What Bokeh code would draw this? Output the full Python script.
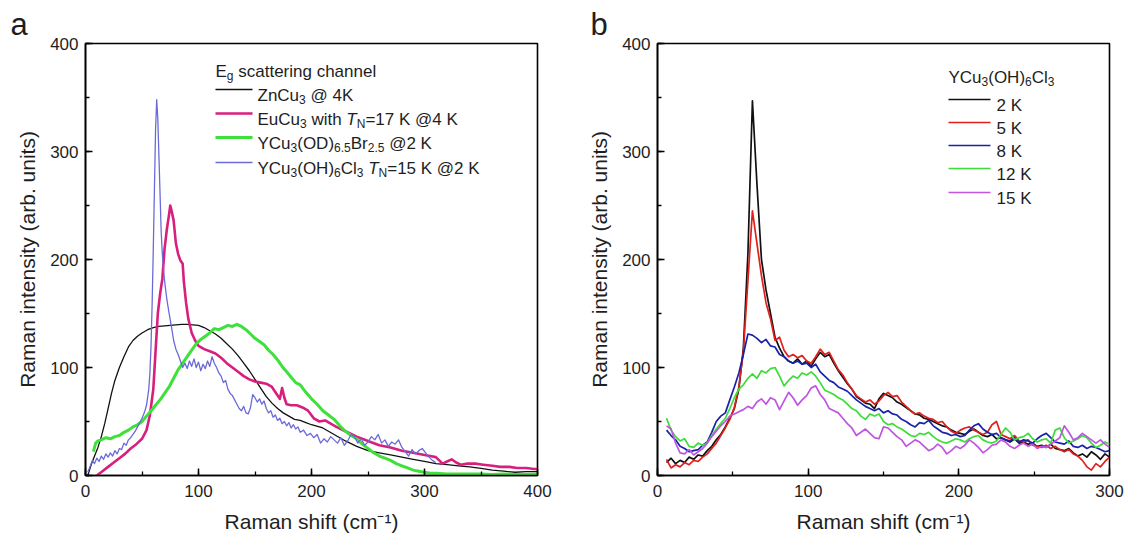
import numpy as np
from bokeh.plotting import figure
from bokeh.models import Range1d, SingleIntervalTicker, Label
from bokeh.layouts import row
from bokeh.embed import file_html
from bokeh.resources import INLINE

# ---------------- Panel a data (E_g scattering channel) ----------------
zncu3_x = [2, 5, 8, 11, 14, 17, 20, 23, 26, 30, 34, 38, 42, 46, 50, 55, 60, 65, 70, 75,
           80, 85, 90, 95, 100, 105, 110, 115, 120, 125, 130, 135, 140, 145, 150, 155, 160, 165, 170, 175,
           180, 185, 190, 195, 200, 210, 220, 230, 240, 250, 260, 270, 280, 290, 300, 310, 320, 330, 340, 350,
           360, 370, 380, 390, 400]
zncu3_y = [0, 10, 18, 26, 36, 48, 62, 76, 88, 100, 110, 119, 125, 129, 132, 135, 137, 138, 138.5, 139,
           139.5, 140, 140, 139.5, 139, 137, 134, 131, 127, 122, 117, 111, 104, 97, 89, 81, 73, 67, 62, 58,
           55, 52, 51, 49, 47, 44, 38, 32, 27, 23, 21, 19, 17, 15, 13, 11, 10, 9, 8, 6.5,
           5, 4, 3, 3.5, 3.5]

eucu3_x = [10, 15, 20, 25, 30, 35, 40, 45, 50, 54, 57, 60, 62, 64, 66, 68, 70, 72, 74, 75,
           76, 78, 80, 82, 84, 86, 87, 89, 91, 94, 97, 100, 105, 110, 115, 120, 125, 130, 135, 140,
           145, 150, 155, 160, 165, 170, 172, 174, 176, 178, 182, 187, 192, 197, 202, 207, 212, 217, 222, 230,
           240, 250, 260, 270, 280, 290, 300, 305, 310, 313, 316, 320, 324, 328, 332, 338, 345, 352, 360, 367,
           375, 382, 390, 397, 400]
eucu3_y = [0, 4, 8, 12, 16, 20, 25, 29, 34, 42, 56, 80, 115, 150, 168, 182, 210, 228, 242, 250,
           246, 236, 215, 205, 199, 196, 180, 160, 145, 132, 125, 120, 117, 115, 113, 109, 104, 100, 96, 92,
           89, 87, 86, 85, 82, 74, 71, 81, 72, 66, 65, 65, 63, 60, 53, 50, 51, 48, 45, 41,
           36, 32, 28, 26, 23, 21, 19, 18, 17, 14, 11, 13, 15, 12, 10, 11, 11, 10, 9, 8,
           8, 7, 7, 6, 6]

odbr_x = [7, 9, 11, 14, 18, 22, 26, 30, 34, 38, 42, 46, 50, 54, 58, 62, 66, 70, 74, 78,
          82, 86, 90, 94, 98, 102, 106, 110, 114, 118, 122, 126, 130, 134, 138, 142, 146, 150, 154, 158,
          162, 166, 170, 174, 178, 182, 186, 190, 195, 200, 205, 210, 215, 220, 225, 230, 235, 240, 245, 250,
          255, 260, 265, 270, 275, 280, 285, 290, 295, 300, 305, 310, 320, 330, 340, 350, 360, 370, 380, 390,
          400]
odbr_y = [22, 30, 32, 33, 35, 34, 36, 37, 40, 42, 45, 47, 50, 55, 60, 65, 70, 76, 82, 90,
          98, 104, 110, 116, 122, 126, 129, 132, 136, 135, 137, 139, 138, 140, 138, 135, 131, 127, 124, 121,
          116, 112, 107, 101, 96, 91, 86, 84, 77, 71, 66, 60, 56, 52, 46, 41, 37, 34, 29, 25,
          21, 18, 16, 14, 11, 9, 7, 5, 4, 3, 2, 2, 1.5, 1.5, 1.5, 1.5, 1, 1.5, 1, 1,
          1.5]

ohcl_x = [2, 4, 6, 8, 10, 12, 14, 16, 18, 20, 22, 24, 26, 28, 30, 32, 34, 36, 38, 40,
          42, 44, 46, 48, 50, 52, 54, 56, 57, 58, 59, 60, 61, 62, 63, 64, 65, 66, 67, 68,
          69, 70, 72, 74, 76, 78, 80, 82, 84, 86, 88, 90, 92, 94, 96, 98, 100, 102, 104, 106,
          108, 110, 112, 114, 116, 118, 120, 122, 124, 126, 128, 130, 132, 134, 136, 138, 140, 142, 144, 146,
          148, 150, 152, 154, 156, 158, 160, 162, 164, 166, 168, 170, 172, 174, 176, 178, 180, 182, 184, 186,
          188, 190, 193, 196, 199, 202, 205, 208, 211, 214, 217, 220, 223, 226, 229, 232, 235, 238, 241, 244,
          247, 250, 253, 256, 259, 262, 265, 268, 271, 274, 277, 280, 283, 286, 289, 292, 295, 298, 301, 304,
          307, 310]
ohcl_y = [3, 8, 14, 11, 16, 13, 18, 15, 20, 17, 21, 18, 23, 20, 25, 24, 30, 28, 33, 35,
          38, 41, 45, 49, 53, 58, 65, 80, 95, 120, 160, 210, 265, 320, 348, 330, 295, 260, 225, 205,
          192, 180, 163, 150, 138, 125, 117, 112, 106, 100, 104, 99, 106, 101, 108, 100, 105, 97, 103, 99,
          106, 101, 110, 104, 100, 95, 92, 86, 88, 80, 76, 74, 70, 66, 62, 60, 64, 58, 57, 63,
          75, 72, 68, 71, 66, 69, 62, 58, 60, 54, 56, 51, 53, 48, 50, 46, 49, 44, 47, 43,
          45, 40, 42, 37, 39, 35, 38, 30, 34, 31, 36, 33, 30, 35, 28, 32, 38, 36, 30, 34,
          28, 31, 36, 33, 38, 30, 33, 27, 31, 29, 33, 26, 22, 18, 24, 20, 23, 25, 21, 17,
          14, 12]

# ---------------- Panel b data (YCu3(OH)6Cl3, temperatures) ----------------
shift_b = list(range(6, 301, 3))
t2K = [12, 16, 11, 14, 12, 17, 15, 19, 18, 23, 27, 33, 38, 45, 53, 62, 80, 118, 205, 347,
       270, 200, 172, 150, 128, 118, 110, 106, 104, 108, 103, 106, 101, 108, 114, 110, 112, 104, 97, 91,
       85, 80, 73, 70, 67, 66, 62, 71, 76, 74, 72, 68, 66, 63, 60, 57, 56, 53, 52, 50,
       48, 46, 45, 42, 40, 39, 38, 41, 43, 40, 37, 36, 38, 34, 35, 33, 31, 34, 30, 31,
       29, 30, 27, 28, 26, 29, 25, 24, 23, 25, 21, 18, 20, 17, 22, 19, 15, 20, 17]
t5K = [15, 7, 10, 8, 12, 10, 14, 13, 17, 20, 25, 30, 37, 44, 52, 63, 82, 115, 180, 245,
       215, 185, 160, 145, 125, 128, 116, 110, 112, 109, 111, 106, 104, 110, 117, 112, 114, 106, 98, 93,
       86, 80, 74, 71, 68, 70, 66, 69, 74, 77, 73, 74, 68, 64, 60, 57, 58, 55, 53, 52,
       49, 50, 45, 41, 39, 42, 44, 45, 42, 40, 38, 40, 47, 50, 38, 36, 34, 37, 32, 31,
       33, 28, 27, 26, 28, 25, 27, 24, 22, 24, 20, 18, 14, 8, 5, 11, 8, 13, 17]
t8K = [42, 37, 33, 27, 25, 22, 23, 24, 28, 31, 40, 50, 55, 58, 70, 82, 95, 112, 131, 130,
       127, 123, 126, 120, 119, 112, 110, 106, 104, 106, 103, 104, 100, 103, 96, 92, 88, 86, 82, 80,
       78, 74, 70, 67, 64, 62, 60, 62, 58, 60, 57, 56, 52, 50, 47, 45, 49, 48, 51, 46,
       43, 40, 39, 37, 38, 36, 37, 42, 46, 48, 43, 40, 38, 39, 35, 33, 32, 35, 31, 33,
       32, 30, 34, 37, 39, 35, 31, 30, 29, 32, 27, 26, 28, 25, 27, 26, 24, 22, 23]
t12K = [53, 42, 36, 32, 34, 27, 26, 30, 28, 30, 37, 43, 48, 53, 62, 72, 80, 84, 90, 94,
        90, 97, 95, 99, 100, 92, 83, 88, 92, 90, 95, 93, 96, 92, 86, 79, 77, 75, 72, 70,
        66, 62, 60, 55, 52, 57, 55, 57, 50, 47, 48, 45, 43, 40, 37, 36, 39, 38, 40, 36,
        33, 31, 30, 32, 34, 33, 31, 34, 36, 37, 33, 31, 30, 32, 38, 44, 40, 33, 35, 36,
        39, 34, 31, 33, 34, 30, 42, 44, 35, 30, 32, 34, 37, 35, 30, 26, 28, 31, 29]
t15K = [46, 43, 30, 21, 20, 24, 19, 22, 25, 30, 36, 41, 46, 50, 55, 57, 59, 61, 64, 62,
        68, 71, 66, 72, 70, 61, 69, 77, 72, 65, 70, 74, 81, 83, 75, 70, 62, 60, 58, 53,
        48, 44, 37, 40, 43, 39, 35, 34, 45, 44, 40, 36, 33, 27, 30, 33, 31, 27, 23, 25,
        29, 26, 20, 23, 27, 25, 28, 33, 30, 26, 21, 24, 28, 29, 33, 31, 27, 25, 28, 30,
        27, 29, 25, 27, 26, 29, 32, 35, 46, 40, 33, 35, 39, 36, 33, 30, 33, 29, 26]

for a, b in [(zncu3_x, zncu3_y), (eucu3_x, eucu3_y), (odbr_x, odbr_y), (ohcl_x, ohcl_y)]:
    assert len(a) == len(b), (len(a), len(b))
for s in (t2K, t5K, t8K, t12K, t15K):
    assert len(s) == len(shift_b), len(s)

FONT = "Liberation Sans"
TXT = "#1e1e1e"

# Arial / Liberation Sans advance widths (1/1000 em)
W = {' ': 278, '(': 333, ')': 333, '.': 278, '=': 584, '@': 1015,
     'B': 667, 'C': 722, 'D': 722, 'E': 667, 'H': 722, 'K': 667, 'N': 722, 'O': 778,
     'T': 611, 'Y': 667, 'Z': 611, 'a': 556, 'b': 556, 'c': 500, 'e': 556, 'g': 556,
     'h': 556, 'i': 222, 'l': 222, 'n': 556, 'r': 333, 's': 500, 't': 278, 'u': 556, 'w': 722}
for d in "0123456789":
    W[d] = 556


def rich_text(p, frame_left, frame_bottom, X, Y, segs, fs=17):
    """Draw text with sub-scripts; X,Y = page pixel of start / baseline."""
    x = X
    for s, kind in segs:
        sub = kind == "s"
        size = round(fs * 0.72) if sub else fs
        yb = Y + (4 if sub else 0)
        lead = len(s) - len(s.lstrip(" "))
        x0 = x + lead * W[' '] * size / 1000.0
        body = s.strip(" ")
        if body:
            lab = Label(x=x0 - frame_left, y=frame_bottom - yb, x_units="screen", y_units="screen",
                        text=body, text_font=FONT, text_font_size=f"{size}px", text_color=TXT,
                        text_baseline="alphabetic", text_align="left",
                        text_font_style="italic" if kind == "i" else "normal")
            p.add_layout(lab)
        x += sum(W[c] for c in s) * size / 1000.0


def make_fig(xmax, min_left, min_right, letter, letter_offset):
    p = figure(frame_width=452, frame_height=432, output_backend="svg", toolbar_location=None,
               x_range=Range1d(0, xmax), y_range=Range1d(0, 400),
               min_border_left=min_left, min_border_right=min_right,
               min_border_top=43, min_border_bottom=72, title=letter)
    p.title.text_font = FONT
    p.title.text_font_size = "31px"
    p.title.text_font_style = "normal"
    p.title.text_color = TXT
    p.title.align = "left"
    p.title.offset = letter_offset
    p.title.standoff = 4
    p.xgrid.visible = False
    p.ygrid.visible = False
    p.outline_line_color = "black"
    p.outline_line_width = 1.6
    p.outline_line_alpha = 1.0
    p.background_fill_color = "white"
    p.border_fill_color = "white"
    p.xaxis.ticker = SingleIntervalTicker(interval=100, num_minor_ticks=2)
    p.yaxis.ticker = SingleIntervalTicker(interval=100, num_minor_ticks=2)
    for ax in (p.xaxis[0], p.yaxis[0]):
        ax.major_tick_in = 7
        ax.major_tick_out = 0
        ax.minor_tick_in = 4
        ax.minor_tick_out = 0
        ax.major_tick_line_width = 1.5
        ax.minor_tick_line_width = 1.3
        ax.major_tick_line_color = "black"
        ax.minor_tick_line_color = "black"
        ax.axis_line_width = 1.6
        ax.axis_line_color = "black"
        ax.major_label_text_font = FONT
        ax.major_label_text_font_size = "17px"
        ax.major_label_text_color = TXT
        ax.axis_label_text_font = FONT
        ax.axis_label_text_font_size = "21px"
        ax.axis_label_text_font_style = "normal"
        ax.axis_label_text_color = TXT
    p.xaxis.axis_label = "Raman shift (cm\u207b\u00b9)"
    p.yaxis.axis_label = "Raman intensity (arb. units)"
    p.xaxis.major_label_standoff = 9
    p.xaxis.axis_label_standoff = 10
    p.yaxis.major_label_standoff = 7
    p.yaxis.axis_label_standoff = 8
    return p


FB = 475
def a_dy(Y): return (FB - Y) * 400 / 432

# ---------------- Panel a ----------------
FLa = 85
pa = make_fig(400, 85, 23, "a", 10 - FLa)
C_ZN, C_EU, C_OD, C_OH = "#111111", "#d81f7d", "#3ee03a", "#6b6bd8"
pa.line(zncu3_x, zncu3_y, line_color=C_ZN, line_width=1.3, line_join="round")
pa.line(eucu3_x, eucu3_y, line_color=C_EU, line_width=2.6, line_join="round")
pa.line(odbr_x, odbr_y, line_color=C_OD, line_width=3.0, line_join="round")
pa.line(ohcl_x, ohcl_y, line_color=C_OH, line_width=1.3, line_join="round")

def a_dx(X): return (X - FLa) * 400 / 452

leg_a = [(C_ZN, 1.3, 89, [("ZnCu", "n"), ("3", "s"), (" @ 4K", "n")]),
         (C_EU, 2.6, 113, [("EuCu", "n"), ("3", "s"), (" with ", "n"), ("T", "i"), ("N", "s"),
                           ("=17 K @4 K", "n")]),
         (C_OD, 3.0, 137, [("YCu", "n"), ("3", "s"), ("(OD)", "n"), ("6.5", "s"), ("Br", "n"),
                           ("2.5", "s"), (" @2 K", "n")]),
         (C_OH, 1.3, 162, [("YCu", "n"), ("3", "s"), ("(OH)", "n"), ("6", "s"), ("Cl", "n"),
                           ("3", "s"), (" ", "n"), ("T", "i"), ("N", "s"), ("=15 K @2 K", "n")])]
rich_text(pa, FLa, FB, 215, 71, [("E", "n"), ("g", "s"), (" scattering channel", "n")])
for col, lw, ly, segs in leg_a:
    pa.segment(x0=[a_dx(215)], y0=[a_dy(ly)], x1=[a_dx(252)], y1=[a_dy(ly)],
               line_color=col, line_width=lw)
    rich_text(pa, FLa, FB, 257, ly + 6, segs)

# ---------------- Panel b ----------------
FLb = 657
pb = make_fig(300, 97, 25, "b", 590 - FLb)
C2, C5, C8, C12, C15 = "#111111", "#e0201c", "#1a22a8", "#3ddc3a", "#bf55e0"
for series, col in [(t2K, C2), (t5K, C5), (t8K, C8), (t12K, C12), (t15K, C15)]:
    pb.line(shift_b, series, line_color=col, line_width=1.7, line_join="round")

def b_dx(X): return (X - FLb) * 300 / 452

rich_text(pb, FLb, FB, 948, 77, [("YCu", "n"), ("3", "s"), ("(OH)", "n"), ("6", "s"),
                                  ("Cl", "n"), ("3", "s")])
leg_b = [(C2, "2 K", 99), (C5, "5 K", 122), (C8, "8 K", 145), (C12, "12 K", 168), (C15, "15 K", 192)]
for col, txt, ly in leg_b:
    pb.segment(x0=[b_dx(948)], y0=[a_dy(ly)], x1=[b_dx(990)], y1=[a_dy(ly)],
               line_color=col, line_width=1.7)
    rich_text(pb, FLb, FB, 996, ly + 6, [(txt, "n")])

layout = row(pa, pb, spacing=0)
open("out.html", "w").write(file_html(layout, INLINE))
